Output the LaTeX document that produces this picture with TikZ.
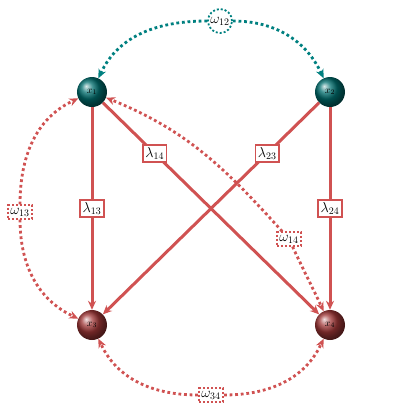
\documentclass[tikz,border=0pt]{standalone}
\usetikzlibrary{arrows.meta,shapes.geometric}
\definecolor{pathred}{RGB}{208,82,82}
\definecolor{ballteal}{RGB}{0,110,110}
\definecolor{ballred}{RGB}{160,55,55}
\definecolor{dteal}{RGB}{0,128,128}
\begin{document}
\begin{tikzpicture}[x=1bp,y=-1bp,
  ballA/.style={circle,minimum size=30bp,inner sep=0pt,shading=ball,ball color=ballteal,text=black,font=\normalsize},
  ballB/.style={circle,minimum size=30bp,inner sep=0pt,shading=ball,ball color=ballred,text=black,font=\normalsize},
  lam/.style={draw=pathred,line width=1.8bp,fill=white,inner sep=2.5bp,font=\Large},
  omg/.style={draw=pathred,line width=1.8bp,dash pattern=on 2bp off 2bp,fill=white,inner sep=2.5bp,font=\Large},
  omgc/.style={circle,draw=dteal,line width=1.8bp,dash pattern=on 2bp off 2bp,fill=white,inner sep=1.2bp,font=\Large},
  solidarr/.style={draw=pathred,line width=3bp,-{Stealth[length=9bp,width=8bp]}},
  dotarr/.style={draw=pathred,line width=2.8bp,dash pattern=on 2.8bp off 2.8bp,-{Stealth[length=9bp,width=8bp]}},
  dotarrT/.style={draw=dteal,line width=2.8bp,dash pattern=on 2.8bp off 2.8bp,-{Stealth[length=9bp,width=8bp]}}]
\useasboundingbox (0,0) rectangle (420,420);
\node[ballA] (x1) at (92,92) {$x_1$};
\node[ballA] (x2) at (330,92) {$x_2$};
\node[ballB] (x3) at (92,325) {$x_3$};
\node[ballB] (x4) at (330,325) {$x_4$};
% solid paths
\draw[solidarr] (x1) -- node[lam,pos=0.5]{$\lambda_{13}$} (x3);
\draw[solidarr] (x1) -- node[lam,pos=0.24]{$\lambda_{14}$} (x4);
\draw[solidarr] (x2) -- node[lam,pos=0.24]{$\lambda_{23}$} (x3);
\draw[solidarr] (x2) -- node[lam,pos=0.5]{$\lambda_{24}$} (x4);
% covariance nodes
\node[omgc] (w12) at (220,21) {$\omega_{12}$};
\node[omg] (w13) at (20,212) {$\omega_{13}$};
\node[omg] (w14) at (289,239) {$\omega_{14}$};
\node[omg] (w34) at (211,395) {$\omega_{34}$};
% dotted curves
\draw[dotarrT] (w12) to[out=180,in=65] (x1);
\draw[dotarrT] (w12) to[out=0,in=115] (x2);
\draw[dotarr] (w13) to[out=90,in=205] (x1);
\draw[dotarr] (w13) to[out=-90,in=155] (x3);
\draw[dotarr] (w14) to[out=132,in=-22] (x1);
\draw[dotarr] (w14) to[out=-65,in=115] (x4);
\draw[dotarr] (w34) to[out=180,in=-65] (x3);
\draw[dotarr] (w34) to[out=0,in=-115] (x4);
\end{tikzpicture}
\end{document}
